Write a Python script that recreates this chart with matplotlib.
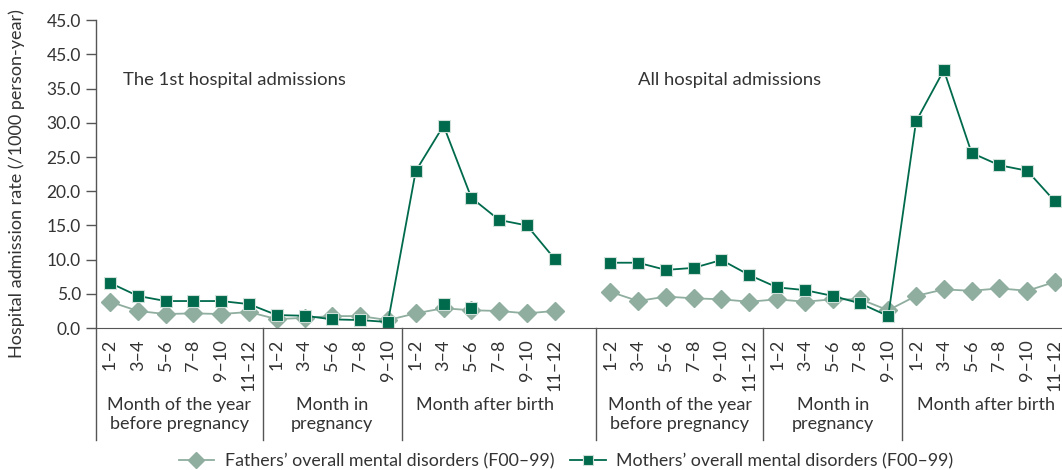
import matplotlib
matplotlib.use('Agg')
import matplotlib.pyplot as plt
import numpy as np

plt.rcParams['font.family'] = ['Lato', 'DejaVu Sans']

# x categories (two panels, each: 6 + 5 + 6 month groups, one empty slot between panels)
before_preg = ['1–2', '3–4', '5–6', '7–8', '9–10', '11–12']
in_preg = ['1–2', '3–4', '5–6', '7–8', '9–10']
after_birth = ['1–2', '3–4', '5–6', '7–8', '9–10', '11–12']
group_names = ['Month of the year\nbefore pregnancy', 'Month in\npregnancy', 'Month after birth']
panel_titles = ['The 1st hospital admissions', 'All hospital admissions']

# the 1st hospital admissions
fathers_first = [3.85, 2.5, 2.05, 2.15, 2.05, 2.35,
                 1.3, 1.5, 1.75, 1.75, 1.17,
                 2.15, 2.9, 2.6, 2.5, 2.15, 2.5]
mothers_first = [6.6, 4.7, 3.95, 3.95, 3.95, 3.5,
                 1.9, 1.8, 1.27, 1.17, 0.88,
                 22.95, 29.6, 19.05, 15.8, 15.0, 10.1]
# two stray mother markers that appear in the original figure (after birth 3-4, 5-6)
mothers_stray_idx = [12, 13]
mothers_stray = [3.5, 2.95]

# all hospital admissions
fathers_all = [5.3, 3.95, 4.6, 4.35, 4.2, 3.85,
               4.2, 3.85, 4.2, 4.2, 2.6,
               4.7, 5.65, 5.45, 5.8, 5.45, 6.75]
mothers_all = [9.55, 9.55, 8.5, 8.8, 9.95, 7.75,
               5.95, 5.55, 4.7, 3.6, 1.75,
               30.2, 37.7, 25.6, 23.8, 23.0, 18.5]

y_ticks = [0, 5, 10, 15, 20, 25, 30, 35, 40, 45]
y_ticklabels = ['0.0', '5.0', '10.0', '15.0', '20.0', '25.0', '30.0', '35.0', '45.0', '45.0']

dark = '#006a4c'
light = '#8fae9f'
text_col = '#333333'

panel_labels = before_preg + in_preg + after_birth
n = len(panel_labels)
x1 = np.arange(n)
x2 = x1 + n + 1

fig = plt.figure(figsize=(10.62, 4.70), dpi=100)
ax = fig.add_axes([0.0905, 0.302, 0.916, 0.655])

ax.plot(x1, fathers_first, color=light, marker='D', ms=9, lw=1.3, mec=light)
ax.plot(x2, fathers_all, color=light, marker='D', ms=9, lw=1.3, mec=light,
        label='Fathers’ overall mental disorders (F00–99)')
ax.plot(x1, mothers_first, color=dark, marker='s', ms=8.5, lw=1.3, mec='#cfe0d8', mew=0.8)
ax.plot(x2, mothers_all, color=dark, marker='s', ms=8.5, lw=1.3, mec='#cfe0d8', mew=0.8,
        label='Mothers’ overall mental disorders (F00–99)')
ax.plot(x1[mothers_stray_idx], mothers_stray, ls='none', color=dark, marker='s', ms=8.5,
        mec='#cfe0d8', mew=0.8)

ax.set_xlim(-0.5, 2 * n + 0.5)
ax.set_ylim(0, 45)
ax.set_yticks(y_ticks)
ax.set_yticklabels(y_ticklabels)
ax.tick_params(axis='y', length=7, width=1, color='#555555', labelsize=12.5,
               labelcolor=text_col, pad=4)

xt = list(x1) + list(x2)
ax.set_xticks(xt)
ax.set_xticklabels(panel_labels * 2, rotation=90, fontsize=13, color=text_col)
ax.tick_params(axis='x', length=0, pad=8)

for s in ['top', 'right']:
    ax.spines[s].set_visible(False)
ax.spines['left'].set_visible(False)
ax.spines['bottom'].set_color('#555555')

ax.set_ylabel('Hospital admission rate (/1000 person-year)', fontsize=13,
              color=text_col)
ax.yaxis.set_label_coords(-0.073, 0.47)

# vertical separators reaching down through the group labels
trans = ax.get_xaxis_transform()
low = -0.365
seps = [-0.5, 5.5, 10.5, n + 0.5, n + 1 + 5.5, n + 1 + 10.5]
for s in seps:
    ax.plot([s, s], [low, 1.0 if s == -0.5 else 0], transform=trans, color='#555555',
            lw=1, clip_on=False)

# group labels
for off in [0, n + 1]:
    centers = [off + 2.5, off + 8, off + 13.5]
    for c, g in zip(centers, group_names):
        ax.text(c, -0.225, g, transform=trans, ha='center', va='top', fontsize=13,
                color=text_col, linespacing=1.2)

ax.text(0.45, 36.3, panel_titles[0], ha='left', va='center', fontsize=13.3, color=text_col)
ax.text(19.0, 36.3, panel_titles[1], ha='left', va='center', fontsize=13.3, color=text_col)

fig.legend(loc='lower center', bbox_to_anchor=(0.533, -0.033), ncol=2, frameon=False,
           fontsize=12.75, handlelength=2.0, columnspacing=0.9, handletextpad=0.6,
           labelcolor=text_col, markerscale=0.85)

fig.savefig('out.png', dpi=100)
